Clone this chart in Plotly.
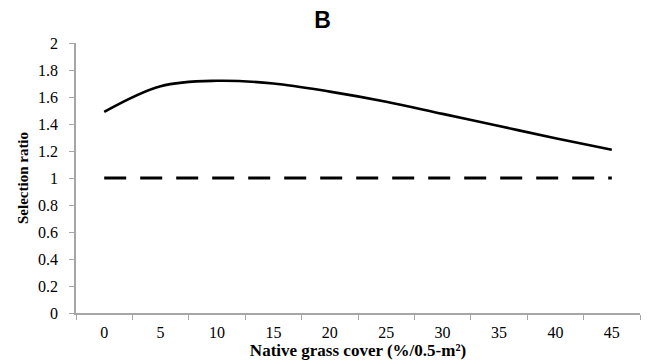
import plotly.graph_objects as go

categories = ["0", "5", "10", "15", "20", "25", "30", "35", "40", "45"]
selection = [1.49, 1.68, 1.72, 1.70, 1.64, 1.565, 1.475, 1.385, 1.295, 1.21]
reference = [1.0] * 10
y_ticks = [0, 0.2, 0.4, 0.6, 0.8, 1, 1.2, 1.4, 1.6, 1.8, 2]

fig = go.Figure()
fig.add_trace(go.Scatter(x=categories, y=selection, mode="lines",
                         line=dict(color="black", width=2.6, shape="spline", smoothing=1.0)))
fig.add_trace(go.Scatter(x=categories, y=reference, mode="lines",
                         line=dict(color="black", width=2.8, dash="22px,14px")))

serif = "Liberation Serif, Times New Roman, serif"
fig.update_layout(
    width=649, height=364,
    margin=dict(l=76, r=9, t=43, b=51),
    paper_bgcolor="white", plot_bgcolor="white",
    showlegend=False,
    title=dict(text="<b>B</b>", x=0.497, xanchor="center", y=0.945, yanchor="middle",
               font=dict(family="Liberation Sans, Arial, sans-serif", size=23, color="black")),
)
fig.update_xaxes(type="category", tickson="boundaries", range=[-0.5, 9.5],
                 showline=True, linecolor="#a6a6a6", linewidth=1.5,
                 ticks="outside", ticklen=5, tickcolor="#a6a6a6",
                 showgrid=False, zeroline=False, ticklabelstandoff=4,
                 tickfont=dict(family=serif, size=16, color="black"),
                 title=dict(text="<b>Native grass cover (%/0.5-m²)</b>", standoff=2,
                            font=dict(family=serif, size=17, color="black")))
fig.update_yaxes(range=[0, 2], tickvals=y_ticks, ticktext=[f"{v:g}" for v in y_ticks],
                 showline=True, linecolor="#a6a6a6", linewidth=1.5,
                 ticks="outside", ticklen=5, tickcolor="#a6a6a6",
                 showgrid=False, zeroline=False, ticklabelstandoff=8,
                 tickfont=dict(family=serif, size=16, color="black"),
                 title=dict(text="<b>Selection ratio</b>", standoff=6,
                            font=dict(family=serif, size=15, color="black")))

fig.write_html("out.html")
